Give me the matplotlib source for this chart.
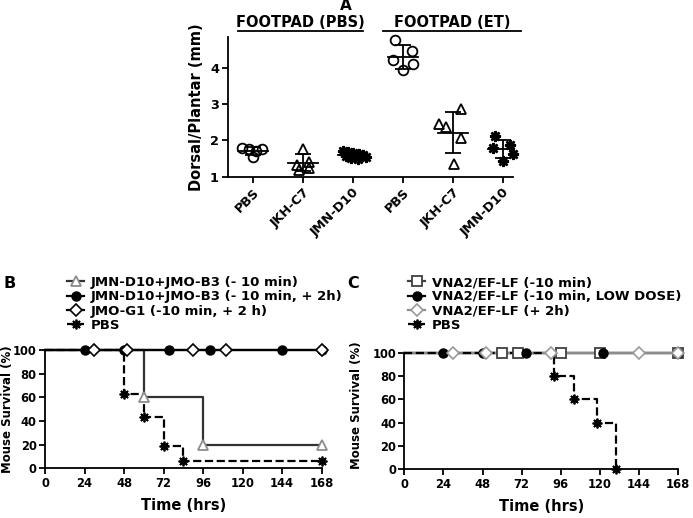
import numpy as np
import matplotlib.pyplot as plt
from matplotlib.lines import Line2D

plt.rcParams['font.family'] = 'DejaVu Sans'
plt.rcParams['font.weight'] = 'bold'
plt.rcParams['axes.labelweight'] = 'bold'

# ---- panel A data (footpad swelling, mm) ----
a_groups = ['PBS', 'JKH-C7', 'JMN-D10', 'PBS', 'JKH-C7', 'JMN-D10']
a_vals = [
    [1.78, 1.75, 1.72, 1.76, 1.53],
    [1.77, 1.32, 1.41, 1.18, 1.23],
    [1.72, 1.68, 1.65, 1.62, 1.60, 1.58, 1.56, 1.55, 1.52, 1.50],
    [4.77, 4.47, 4.20, 4.09, 3.93],
    [2.86, 2.45, 2.36, 2.06, 1.34],
    [2.11, 1.80, 1.86, 1.62, 1.43],
]
a_jitter = [
    [-0.22, -0.09, 0.05, 0.18, 0.0],
    [0.0, -0.13, 0.11, -0.09, 0.11],
    [-0.2, -0.1, 0.0, 0.12, 0.2, -0.15, 0.05, 0.25, -0.05, 0.1],
    [-0.17, 0.17, -0.2, 0.2, 0.0],
    [0.15, -0.29, -0.15, 0.15, 0.02],
    [-0.17, -0.2, 0.13, 0.2, 0.0],
]
a_markers = ['o', '^', (8, 2, 0), 'o', '^', (8, 2, 0)]

# ---- panel B data (survival %) ----
b_labels = ['JMN-D10+JMO-B3 (- 10 min)', 'JMN-D10+JMO-B3 (- 10 min, + 2h)',
            'JMO-G1 (-10 min, + 2 h)', 'PBS']
b_step_t = [[0, 60, 96, 168], [0, 168], [0, 168], [0, 48, 60, 72, 84, 168]]
b_step_s = [[100, 60, 20, 20], [100, 100], [100, 100],
            [100, 62.5, 43.75, 18.75, 6.25, 6.25]]
b_mark_t = [[60, 96, 168], [24, 48, 75, 100, 144, 168], [30, 50, 90, 110, 168],
            [48, 60, 72, 84, 168]]
b_mark_s = [[60, 20, 20], [100] * 6, [100] * 5, [62.5, 43.75, 18.75, 6.25, 6.25]]

# ---- panel C data (survival %) ----
c_labels = ['VNA2/EF-LF (-10 min)', 'VNA2/EF-LF (-10 min, LOW DOSE)',
            'VNA2/EF-LF (+ 2h)', 'PBS']
c_step_t = [[0, 168], [0, 168], [0, 168], [0, 92, 104, 118, 130]]
c_step_s = [[100, 100], [100, 100], [100, 100], [100, 80, 60, 40, 0]]
c_mark_t = [[60, 70, 96, 120, 168], [24, 48, 75, 122, 168], [30, 50, 90, 144, 168],
            [92, 104, 118, 130]]
c_mark_s = [[100] * 5, [100] * 5, [100] * 5, [80, 60, 40, 0]]

time_ticks = [0, 24, 48, 72, 96, 120, 144, 168]

W, H = 693, 518
fig = plt.figure(figsize=(W / 100, H / 100), dpi=100)

def box(l, t, r, b):
    return [l / W, 1 - b / H, (r - l) / W, (b - t) / H]

def clean(ax, size=9, pad=2.5):
    ax.spines['top'].set_visible(False)
    ax.spines['right'].set_visible(False)
    for s in ['left', 'bottom']:
        ax.spines[s].set_linewidth(1.3)
    ax.tick_params(width=1.3, length=4, labelsize=size, pad=pad)

# ---------------- A ----------------
axA = fig.add_axes(box(228, 36.7, 513, 176.7))
clean(axA, 9.3)
for i, (vals, jit, mk) in enumerate(zip(a_vals, a_jitter, a_markers)):
    vals = np.array(vals)
    xs = i + np.array(jit)
    if mk == 'o' or mk == '^':
        axA.plot(xs, vals, ls='none', marker=mk, ms=7, mfc='none', mec='black',
                 mew=1.3, clip_on=False)
    else:
        axA.plot(xs, vals, ls='none', marker=mk, ms=8, mec='black', mew=1.8,
                 clip_on=False)
    m, sd = vals.mean(), vals.std(ddof=1)
    axA.plot([i - 0.3, i + 0.3], [m, m], color='black', lw=1.3)
    axA.errorbar(i, m, yerr=sd, color='black', lw=1.3, capsize=6, capthick=1.3)
axA.set_xlim(-0.5, 5.2)
axA.set_ylim(1, 4.85)
axA.set_yticks([1, 2, 3, 4])
axA.set_xticks(range(6))
axA.set_xticklabels(a_groups, rotation=45, ha='right', rotation_mode='anchor')
axA.set_ylabel('Dorsal/Plantar (mm)', fontsize=10.5, labelpad=4)
axA.plot([-0.3, 2.2], [5.0, 5.0], color='black', lw=1.3, clip_on=False)
axA.plot([2.6, 5.35], [5.0, 5.0], color='black', lw=1.3, clip_on=False)
axA.text(0.95, 5.04, 'FOOTPAD (PBS)', ha='center', va='bottom', fontsize=10.5)
axA.text(3.98, 5.04, 'FOOTPAD (ET)', ha='center', va='bottom', fontsize=10.5)
fig.text(346 / W, 1 - 6 / H, 'A', ha='center', va='center', fontsize=11)

# ---------------- B ----------------
axB = fig.add_axes(box(45, 350, 321.7, 468.3))
clean(axB, 8.3, 2)
b_styles = [
    dict(color='#333333', ls='-', marker='^', ms=7, mfc='white', mec='#8c8c8c', mew=1.3),
    dict(color='black', ls='-', marker='o', ms=6.5, mfc='black', mec='black', mew=1),
    dict(color='black', ls='-', marker='D', ms=6, mfc='white', mec='black', mew=1.2),
    dict(color='black', ls='--', marker=(8, 2, 0), ms=7, mec='black', mew=1.3),
]
handles = []
for ts, ss, mt, ms_, st in zip(b_step_t, b_step_s, b_mark_t, b_mark_s, b_styles):
    axB.step(ts, ss, where='post', color=st['color'], ls=st['ls'], lw=1.6, clip_on=False)
    mkw = {k: v for k, v in st.items() if k not in ('color', 'ls')}
    axB.plot(mt, ms_, ls='none', clip_on=False, zorder=3, **mkw)
    handles.append(Line2D([], [], lw=1.6, **st))
axB.set_xlim(0, 168)
axB.set_ylim(0, 100)
axB.set_xticks(time_ticks)
axB.set_yticks([0, 20, 40, 60, 80, 100])
axB.set_xlabel('Time (hrs)', fontsize=10.5, labelpad=6)
axB.set_ylabel('Mouse Survival (%)', fontsize=8.5)
axB.yaxis.set_label_coords((13.8 - 45) / 276.7, 0.5)
fig.legend(handles, b_labels, loc='upper left', bbox_to_anchor=(67 / W, 1 - 276 / H),
           frameon=False, fontsize=9.5, handlelength=1.3, handletextpad=0.5,
           labelspacing=0.1, borderpad=0, borderaxespad=0)
fig.text(10 / W, 1 - 283 / H, 'B', ha='center', va='center', fontsize=11.5)

# ---------------- C ----------------
axC = fig.add_axes(box(404.3, 352.7, 678, 469.3))
clean(axC, 8.3, 2)
c_styles = [
    dict(color='#404040', ls='-', marker='s', ms=7.5, mfc='white', mec='#404040', mew=1.3),
    dict(color='black', ls='-', marker='o', ms=6.5, mfc='black', mec='black', mew=1),
    dict(color='#8c8c8c', ls='-', marker='D', ms=6, mfc='white', mec='#999999', mew=1.2),
    dict(color='black', ls='--', marker=(8, 2, 0), ms=7, mec='black', mew=1.3),
]
handles = []
for ts, ss, mt, ms_, st in zip(c_step_t, c_step_s, c_mark_t, c_mark_s, c_styles):
    axC.step(ts, ss, where='post', color=st['color'], ls=st['ls'], lw=1.6, clip_on=False)
    mkw = {k: v for k, v in st.items() if k not in ('color', 'ls')}
    axC.plot(mt, ms_, ls='none', clip_on=False, zorder=3, **mkw)
    handles.append(Line2D([], [], lw=1.6, **st))
axC.set_xlim(0, 168)
axC.set_ylim(0, 100)
axC.set_xticks(time_ticks)
axC.set_yticks([0, 20, 40, 60, 80, 100])
axC.set_xlabel('Time (hrs)', fontsize=10.5, labelpad=6)
axC.set_ylabel('Mouse Survival (%)', fontsize=8.5)
axC.yaxis.set_label_coords((363 - 404.3) / 273.7, 0.55)
fig.legend(handles, c_labels, loc='upper left', bbox_to_anchor=(408 / W, 1 - 276 / H),
           frameon=False, fontsize=9.5, handlelength=1.3, handletextpad=0.5,
           labelspacing=0.1, borderpad=0, borderaxespad=0)
fig.text(353 / W, 1 - 283 / H, 'C', ha='center', va='center', fontsize=11.5)

fig.savefig('out.png', dpi=100)
